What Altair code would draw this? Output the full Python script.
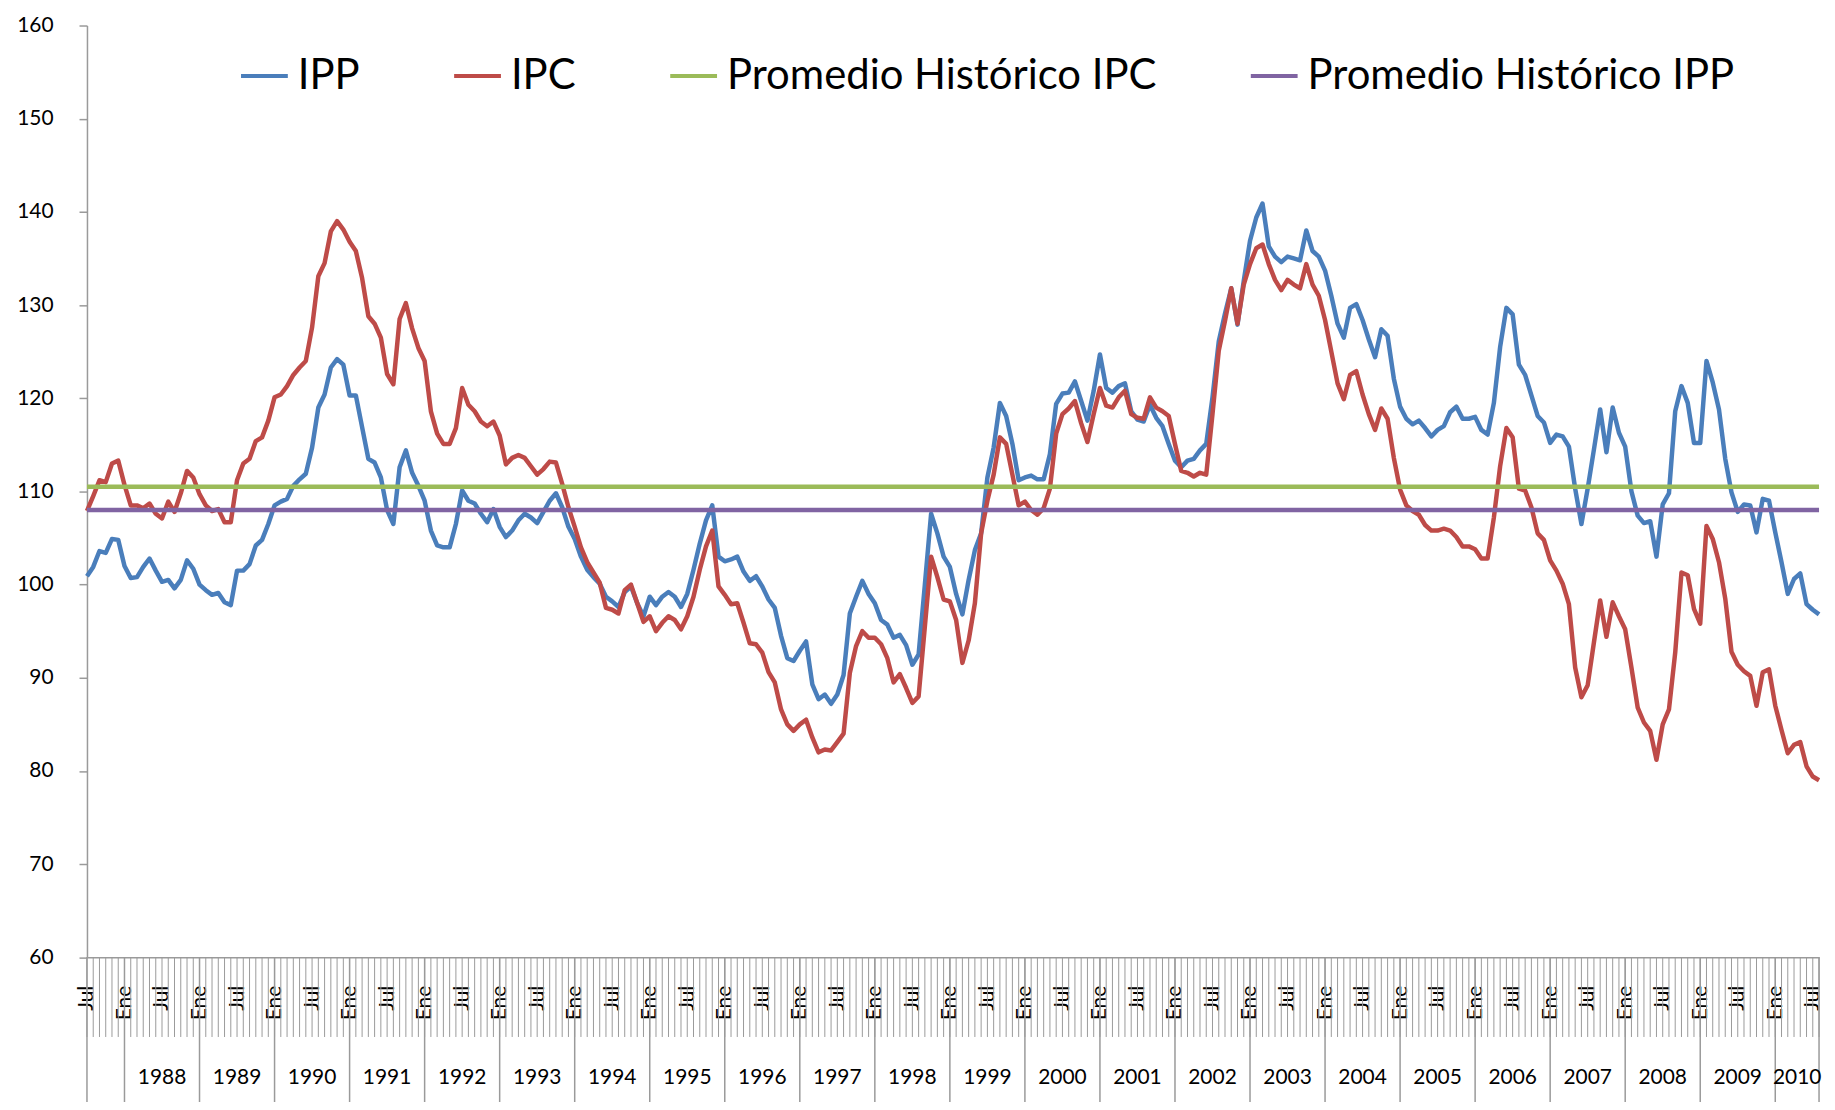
import altair as alt
import pandas as pd

# Monthly values, Jul 1987 (index 0) ... Aug 2010 (index 277)
IPP = [
    100.9, 101.9, 103.6, 103.4, 104.9, 104.8, 102.0, 100.7, 100.8, 101.9,
    102.8, 101.5, 100.3, 100.5, 99.6, 100.5, 102.6, 101.7, 100.0, 99.4,
    98.9, 99.1, 98.1, 97.8, 101.5, 101.5, 102.2, 104.2, 104.8, 106.5,
    108.5, 108.9, 109.2, 110.6, 111.3, 111.9, 114.7, 119.0, 120.4, 123.3,
    124.2, 123.6, 120.3, 120.3, 116.9, 113.5, 113.1, 111.5, 108.0, 106.5,
    112.6, 114.4, 112.0, 110.6, 109.0, 105.8, 104.2, 104.0, 104.0, 106.5,
    110.1, 109.0, 108.7, 107.6, 106.7, 108.1, 106.2, 105.1, 105.8, 106.9,
    107.6, 107.2, 106.6, 107.8, 109.0, 109.8, 108.3, 106.2, 104.9, 103.0,
    101.6, 100.8, 100.1, 98.7, 98.2, 97.6, 99.2, 99.8, 98.0, 96.6,
    98.7, 97.8, 98.7, 99.2, 98.7, 97.6, 99.0, 101.6, 104.4, 106.9,
    108.5, 103.0, 102.5, 102.7, 103.0, 101.4, 100.4, 100.9, 99.8, 98.4,
    97.5, 94.5, 92.1, 91.8, 92.9, 93.9, 89.3, 87.7, 88.2, 87.2,
    88.2, 90.3, 96.9, 98.7, 100.4, 99.0, 98.0, 96.2, 95.7, 94.3,
    94.6, 93.5, 91.4, 92.5, 100.0, 107.6, 105.5, 103.0, 101.9, 99.0,
    96.8, 100.5, 103.7, 105.5, 111.5, 114.7, 119.5, 118.1, 115.1, 111.2,
    111.5, 111.7, 111.3, 111.3, 114.0, 119.4, 120.5, 120.6, 121.8, 119.7,
    117.6, 120.8, 124.7, 121.1, 120.6, 121.3, 121.6, 118.6, 117.7, 117.5,
    119.3, 117.9, 117.0, 115.1, 113.3, 112.6, 113.3, 113.5, 114.4, 115.1,
    120.1, 126.1, 129.1, 131.8, 127.9, 132.6, 136.9, 139.4, 140.9, 136.3,
    135.2, 134.6, 135.2, 135.0, 134.8, 138.0, 135.8, 135.2, 133.7, 131.0,
    128.0, 126.5, 129.7, 130.1, 128.4, 126.3, 124.4, 127.4, 126.7, 122.1,
    119.1, 117.8, 117.2, 117.6, 116.8, 115.9, 116.6, 117.0, 118.5, 119.1,
    117.8, 117.8, 118.0, 116.6, 116.1, 119.5, 125.5, 129.7, 129.0, 123.6,
    122.5, 120.3, 118.1, 117.4, 115.2, 116.1, 115.9, 114.8, 110.3, 106.5,
    110.3, 114.5, 118.8, 114.2, 119.0, 116.3, 114.8, 110.0, 107.4, 106.6,
    106.8, 103.0, 108.6, 109.8, 118.6, 121.3, 119.5, 115.2, 115.2, 124.0,
    121.7, 118.8, 113.5, 109.9, 107.8, 108.6, 108.5, 105.6, 109.2, 109.0,
    105.6, 102.4, 99.0, 100.6, 101.2, 97.9, 97.3, 96.8,
]

IPC = [
    107.9, 109.5, 111.2, 111.0, 113.0, 113.3, 110.7, 108.5, 108.5, 108.2,
    108.7, 107.6, 107.1, 108.9, 107.8, 109.8, 112.2, 111.5, 109.7, 108.5,
    107.9, 108.1, 106.7, 106.7, 111.2, 113.0, 113.5, 115.4, 115.8, 117.6,
    120.1, 120.4, 121.3, 122.5, 123.3, 124.0, 127.6, 133.1, 134.5, 137.9,
    139.0, 138.1, 136.8, 135.8, 132.9, 128.8, 128.0, 126.5, 122.6, 121.5,
    128.5, 130.2, 127.5, 125.4, 124.0, 118.6, 116.2, 115.1, 115.1, 116.8,
    121.1, 119.3, 118.6, 117.5, 117.0, 117.5, 116.0, 112.9, 113.6, 113.9,
    113.6, 112.7, 111.8, 112.4, 113.2, 113.1, 110.8, 108.3, 106.2, 104.0,
    102.4, 101.3, 100.2, 97.5, 97.3, 96.9, 99.4, 100.0, 98.0, 96.0,
    96.6, 95.0, 95.9, 96.6, 96.2, 95.2, 96.6, 98.7, 101.6, 104.1,
    105.8, 99.8, 98.9, 97.9, 98.0, 95.9, 93.7, 93.6, 92.7, 90.6,
    89.5, 86.6, 85.0, 84.3, 85.0, 85.5, 83.6, 82.0, 82.3, 82.2,
    83.1, 84.0, 90.5, 93.4, 95.0, 94.3, 94.3, 93.6, 92.1, 89.5,
    90.4, 88.9, 87.3, 88.0, 95.5, 103.0, 100.8, 98.4, 98.2, 96.2,
    91.6, 94.0, 98.0, 105.5, 109.0, 111.8, 115.8, 115.1, 111.8, 108.5,
    108.9, 108.0, 107.5, 108.2, 110.3, 116.2, 118.3, 118.9, 119.7, 117.3,
    115.3, 118.3, 121.1, 119.2, 119.0, 120.1, 120.8, 118.3, 117.9, 117.8,
    120.1, 119.0, 118.6, 118.1, 115.1, 112.2, 112.0, 111.6, 112.0, 111.8,
    118.3, 125.1, 128.3, 131.8, 128.0, 132.2, 134.4, 136.1, 136.5, 134.4,
    132.7, 131.6, 132.7, 132.2, 131.8, 134.4, 132.2, 131.0, 128.4, 125.0,
    121.6, 119.9, 122.5, 122.9, 120.4, 118.3, 116.6, 118.9, 117.8, 113.6,
    110.2, 108.5, 107.9, 107.5, 106.4, 105.8, 105.8, 106.0, 105.8, 105.1,
    104.1, 104.1, 103.8, 102.8, 102.8, 107.2, 112.7, 116.8, 115.8, 110.3,
    110.1, 108.3, 105.5, 104.8, 102.6, 101.5, 100.1, 97.9, 91.1, 87.9,
    89.2, 93.8, 98.3, 94.4, 98.1, 96.6, 95.2, 91.1, 86.8, 85.2,
    84.3, 81.2, 85.0, 86.6, 92.7, 101.3, 101.0, 97.4, 95.8, 106.3,
    104.9, 102.4, 98.5, 92.8, 91.4, 90.7, 90.2, 87.0, 90.6, 90.9,
    87.0, 84.4, 81.9, 82.8, 83.1, 80.5, 79.4, 79.0,
]

PROMEDIO_IPC = 110.5
PROMEDIO_IPP = 108.0

SERIES = ["IPP", "IPC", "Promedio Histórico IPC", "Promedio Histórico IPP"]
COLORS = ["#4A7EBB", "#BE4B48", "#9BBB59", "#8064A2"]
MONTH_LABELS = ["Jul", "Ene"]
YEARS = [str(y) for y in range(1988, 2011)]
Y_TICKS = [60, 70, 80, 90, 100, 110, 120, 130, 140, 150, 160]

N = len(IPP)
W = 1739.3
H = 935.7
FONT = "Lato"
GRAY = "#9a9a9a"

months = list(range(N))
series_values = {
    "IPP": IPP,
    "IPC": IPC,
    "Promedio Histórico IPC": [PROMEDIO_IPC] * N,
    "Promedio Histórico IPP": [PROMEDIO_IPP] * N,
}
df = pd.DataFrame(
    [{"m": m, "v": vals[m], "s": s} for s, vals in series_values.items() for m in months]
)

x_scale = alt.Scale(domain=[0, N - 1], nice=False, zero=False)
y_scale = alt.Scale(domain=[60, 160], nice=False, zero=False)

legend = alt.Legend(
    orient="none", legendX=152.7, legendY=25, direction="horizontal", title=None,
    symbolType="stroke", symbolSize=2209, symbolStrokeWidth=4,
    labelFont=FONT, labelFontSize=42, labelColor="#000", labelOffset=8,
    columnPadding=86, padding=0, labelLimit=0,
)
color = alt.Color("s:N", scale=alt.Scale(domain=SERIES, range=COLORS), legend=legend)

label_expr = f"datum.value % 12 == 0 ? '{MONTH_LABELS[0]}' : '{MONTH_LABELS[1]}'"
x_axis = alt.Axis(
    values=list(range(0, N, 6)), labelExpr=label_expr, labelAngle=270,
    ticks=False, labelPadding=28, domainColor=GRAY, domainWidth=1.5,
    title=None, grid=False, labelFont=FONT, labelFontSize=21, labelColor="#000",
    labelOverlap=False, labelFlush=False, labelBound=False,
)
y_axis = alt.Axis(
    values=Y_TICKS, tickSize=8, tickColor=GRAY, tickWidth=1.5, labelPadding=26,
    domainColor=GRAY, domainWidth=1.5, title=None, grid=False,
    labelFont=FONT, labelFontSize=21, labelColor="#000",
)

X = alt.X("m:Q", scale=x_scale, axis=x_axis)

lines = []
for s in SERIES:
    lines.append(
        alt.Chart(df)
        .transform_filter(alt.datum.s == s)
        .mark_line(strokeWidth=4.5, strokeJoin="round")
        .encode(
            x=X,
            y=alt.Y("v:Q", scale=y_scale, axis=y_axis),
            color=color,
        )
    )

ticks = alt.Chart(pd.DataFrame({"m": months})).mark_rule(color=GRAY, strokeWidth=1).encode(
    x=X, y=alt.value(H), y2=alt.value(H + 80),
)

dividers_pos = [0] + list(range(6, N, 12)) + [N - 1]
dividers = alt.Chart(pd.DataFrame({"m": dividers_pos})).mark_rule(color=GRAY, strokeWidth=1.5).encode(
    x=X, y=alt.value(H), y2=alt.value(H + 170),
)

centers = [12 + 12 * k for k in range(len(YEARS) - 1)] + [(dividers_pos[-2] + N - 1) / 2]
year_text = alt.Chart(pd.DataFrame({"m": centers, "label": YEARS})).mark_text(
    font=FONT, fontSize=21, color="#000", baseline="middle", align="center"
).encode(
    x=X,
    y=alt.value(H + 121),
    text="label:N",
)

chart = (
    alt.layer(*lines, ticks, dividers, year_text)
    .properties(
        width=W, height=H,
        autosize=alt.AutoSizeParams(type="none"),
        padding={"left": 79.3, "top": 15.3, "right": 8, "bottom": 143},
        background="white",
    )
    .configure_view(stroke=None)
)

chart.save("out.html", embed_options={"renderer": "svg", "actions": False})
